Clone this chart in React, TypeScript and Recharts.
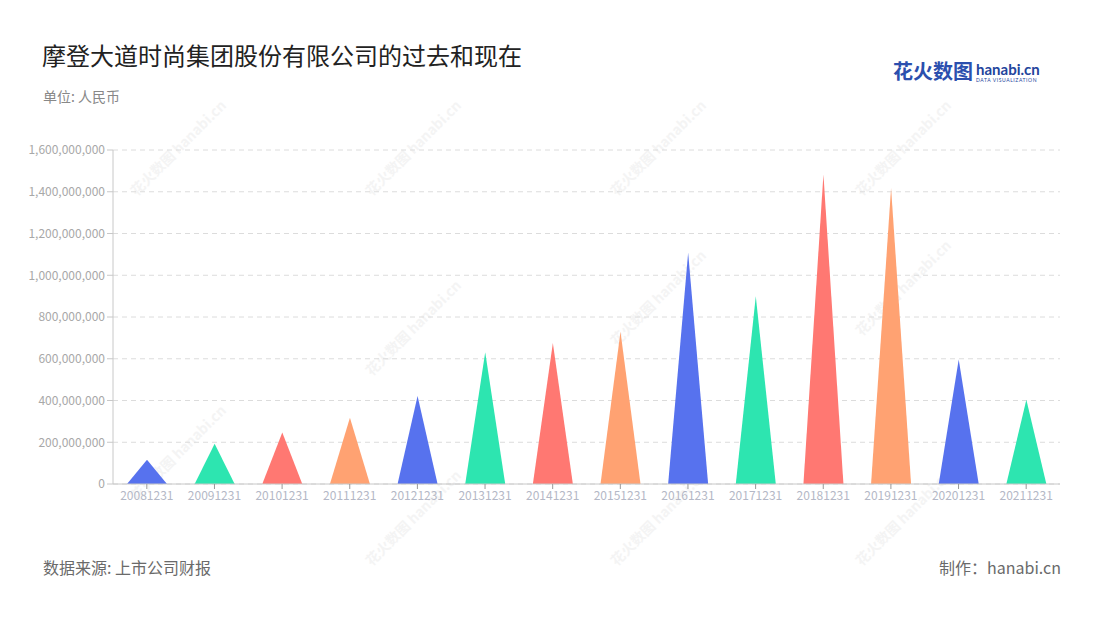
import { Bar, BarChart, CartesianGrid, Cell, XAxis, YAxis } from "recharts";

const YEARS = [
  "20081231", "20091231", "20101231", "20111231", "20121231", "20131231", "20141231",
  "20151231", "20161231", "20171231", "20181231", "20191231", "20201231", "20211231",
];

// revenue in RMB
const VALUES = [
  116000000, 193000000, 247000000, 317000000, 422000000, 631000000, 676000000,
  729000000, 1108000000, 900000000, 1483000000, 1418000000, 596000000, 404000000,
];

const Y_TICKS = [0, 200000000, 400000000, 600000000, 800000000, 1000000000, 1200000000, 1400000000, 1600000000];

const COLORS = ["#5772ee", "#2de5b0", "#ff7872", "#ffa272"];

const FONT = '"Noto Sans CJK SC", "Noto Sans", sans-serif';

const data = YEARS.map((y, i) => ({ label: y, value: VALUES[i] }));

function Triangle(props: any) {
  const { x, y, width, height, fill } = props;
  if (!height || height <= 0) return null;
  const d = `M${x},${y + height} L${x + width / 2},${y} L${x + width},${y + height} Z`;
  return <path d={d} fill={fill} />;
}

const WATERMARKS = [
  [410, 150], [655, 150], [900, 150],
  [175, 455], [410, 330], [655, 300], [900, 290],
  [410, 520], [655, 520], [900, 520], [175, 150],
];

export default function App() {
  return (
    <div
      style={{
        position: "absolute",
        left: 0,
        top: 0,
        width: 1100,
        height: 620,
        background: "#fff",
        fontFamily: FONT,
        overflow: "hidden",
      }}
    >
      {WATERMARKS.map(([wx, wy], i) => (
        <div
          key={i}
          style={{
            position: "absolute",
            left: wx - 60,
            top: wy - 10,
            width: 120,
            textAlign: "center",
            transform: "rotate(-45deg)",
            color: "#f4f4f4",
            fontSize: 14,
            fontWeight: 700,
            whiteSpace: "nowrap",
          }}
        >
          花火数图 hanabi.cn
        </div>
      ))}

      <div style={{ position: "absolute", left: 42, top: 37, fontSize: 24, color: "#222" }}>
        摩登大道时尚集团股份有限公司的过去和现在
      </div>
      <div style={{ position: "absolute", left: 43, top: 86, fontSize: 14, color: "#888" }}>
        单位: 人民币
      </div>

      <div style={{ position: "absolute", left: 893, top: 58, display: "flex", alignItems: "flex-start" }}>
        <span style={{ fontSize: 20, fontWeight: 700, color: "#2b4fae", lineHeight: "26px" }}>花火数图</span>
        <div style={{ marginLeft: 3, marginTop: 3 }}>
          <div style={{ fontSize: 15, fontWeight: 700, color: "#23449c", lineHeight: "16px", fontFamily: "Lato, sans-serif" }}>
            hanabi.cn
          </div>
          <div style={{ fontSize: 5, color: "#23449c", letterSpacing: 0.6, lineHeight: "7px", fontFamily: "Lato, sans-serif" }}>
            DATA VISUALIZATION
          </div>
        </div>
      </div>

      <div style={{ position: "absolute", left: 0, top: 0 }}>
        <BarChart
          width={1100}
          height={620}
          data={data}
          margin={{ top: 150, right: 40, left: 13, bottom: 106 }}
        >
          <CartesianGrid vertical={false} stroke="#dcdcdc" strokeDasharray="5 4" />
          <XAxis
            dataKey="label"
            interval={0}
            height={30}
            axisLine={{ stroke: "#c8c8c8" }}
            tickLine={{ stroke: "#999" }}
            tick={{ fontSize: 12, fill: "#b4b8c6", fontFamily: FONT }}
            tickSize={5}
          />
          <YAxis
            width={100}
            domain={[0, 1600000000]}
            ticks={Y_TICKS}
            interval={0}
            axisLine={{ stroke: "#c8c8c8" }}
            tickLine={{ stroke: "#c8c8c8" }}
            tick={{ fontSize: 12, fill: "#a8a8a8", fontFamily: FONT }}
            tickFormatter={(v: number) => v.toLocaleString("en-US")}
          />
          <Bar dataKey="value" barSize={40} shape={Triangle} isAnimationActive={false}>
            {data.map((_, i) => (
              <Cell key={i} fill={COLORS[i % COLORS.length]} />
            ))}
          </Bar>
        </BarChart>
      </div>

      <div style={{ position: "absolute", left: 43, top: 555, fontSize: 16, color: "#6a6a6a" }}>
        数据来源: 上市公司财报
      </div>
      <div style={{ position: "absolute", right: 39, top: 555, fontSize: 16, color: "#6a6a6a" }}>
        制作：hanabi.cn
      </div>
    </div>
  );
}
